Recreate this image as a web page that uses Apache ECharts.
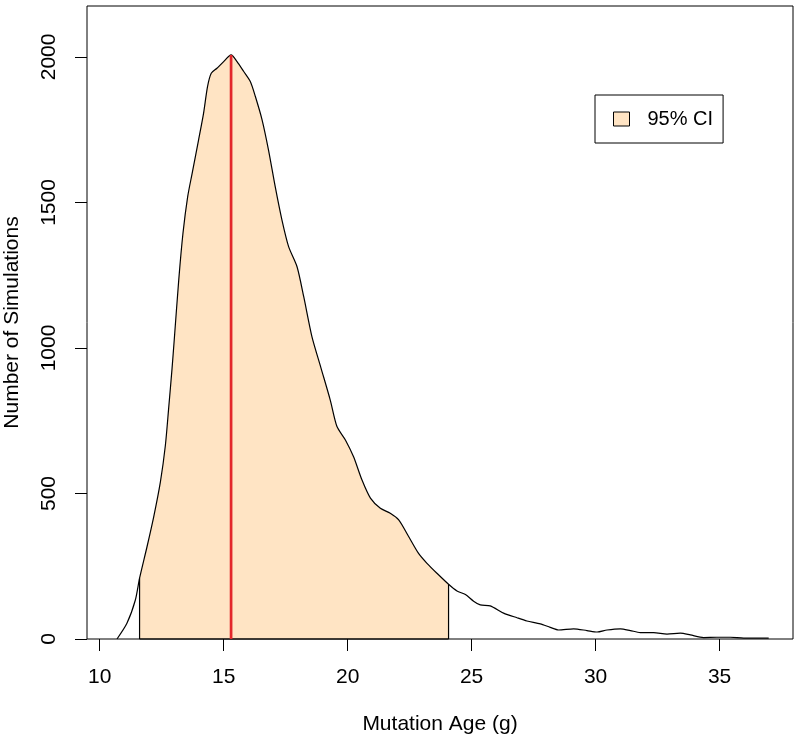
<!DOCTYPE html>
<html><head><meta charset="utf-8">
<script src="https://cdn.jsdelivr.net/npm/echarts@6/dist/echarts.min.js"></script>
<style>html,body{margin:0;padding:0;background:#fff}#c{width:800px;height:743px}</style>
</head><body><div id="c"></div>
<script>
// Density curve
const ageX = [10.70,11.10,11.44,11.61,11.91,12.18,12.45,12.65,12.78,12.92,13.01,13.19,13.36,13.55,13.73,13.99,14.19,14.35,14.50,14.73,15.00,15.30,15.54,15.81,16.08,16.28,16.55,16.81,17.08,17.35,17.62,17.96,18.23,18.56,18.93,19.30,19.57,19.91,20.24,20.58,20.92,21.32,21.72,22.06,22.46,22.86,23.20,23.60,24.07,24.41,24.75,25.08,25.35,25.75,26.29,26.83,27.23,27.77,28.17,28.51,29.11,29.65,30.06,30.46,31.00,31.40,31.80,32.34,32.88,33.42,33.82,34.35,34.89,35.43,35.97,36.51,36.98];
const simCount = [0,54,134,209,317,420,540,665,790,930,1030,1234,1394,1520,1600,1715,1806,1898,1944,1961,1984,2007,1984,1950,1915,1864,1784,1680,1554,1440,1348,1279,1176,1039,930,821,730,684,626,546,484,449,432,409,352,294,260,226,188,165,153,130,117,114,89,73,62,52,40,31,35,29,24,31,35,29,22,22,17,20,14,5,6,6,3,3,3];
const xTicks = [10,15,20,25,30,35];
const yTicks = [0,500,1000,1500,2000];
const ciLower = 11.61;
const ciLowerCount = 209;
const ciUpper = 24.07;
const ciUpperCount = 188;
const medianAge = 15.30;
const medianCount = 2007;
const ciName = '95% CI';

const curve = ageX.map((x, i) => [x, simCount[i]]);
const ciFill = curve.filter(p => p[0] >= ciLower && p[0] <= ciUpper);

const FONT = 'Liberation Sans, Arial, Helvetica, sans-serif';
const FS = 21;
const SM = 0.25;
const chart = echarts.init(document.getElementById('c'), null, {renderer: 'canvas'});
chart.setOption({
  animation: false,
  backgroundColor: '#fff',
  textStyle: {fontFamily: FONT},
  grid: {left: 87, right: 7, top: 6, bottom: 104, show: true, borderColor: '#000', borderWidth: 1, backgroundColor: 'transparent', containLabel: false, outerBoundsMode: 'none'},
  legend: {
    show: true,
    data: [{name: ciName, icon: 'rect', itemStyle: {color: '#FFE4C4', borderColor: '#000', borderWidth: 1}}],
    left: 595, top: 95,
    orient: 'vertical',
    itemWidth: 16, itemHeight: 14,
    padding: [14, 10, 14, 18],
    borderColor: '#000', borderWidth: 1,
    textStyle: {fontFamily: FONT, fontSize: 20, color: '#000', padding: [0, 0, 0, 13], lineHeight: 20},
    selectedMode: false
  },
  xAxis: {
    type: 'value', min: 9.49, max: 37.96,
    name: 'Mutation Age (g)', nameLocation: 'middle', nameGap: 75,
    nameTextStyle: {fontFamily: FONT, fontSize: FS, color: '#000'},
    axisLine: {show: false},
    splitLine: {show: false},
    axisTick: {show: true, inside: false, length: 12, lineStyle: {color: '#000', width: 1}, customValues: xTicks},
    axisLabel: {show: true, margin: 28, fontFamily: FONT, fontSize: FS, color: '#000', customValues: xTicks, formatter: v => String(v)}
  },
  yAxis: {
    type: 'value', min: 0, max: 2175,
    name: 'Number of Simulations', nameLocation: 'middle', nameRotate: 90, nameGap: 64,
    nameTextStyle: {fontFamily: FONT, fontSize: FS, color: '#000'},
    axisLine: {show: false},
    splitLine: {show: false},
    axisTick: {show: true, inside: false, length: 12, lineStyle: {color: '#000', width: 1}, customValues: yTicks},
    axisLabel: {show: true, rotate: 90, margin: 27, fontFamily: FONT, fontSize: FS, color: '#000', customValues: yTicks, formatter: v => String(v)}
  },
  series: [
    {
      name: ciName, type: 'line', data: ciFill, showSymbol: false, symbol: 'none',
      smooth: SM,
      lineStyle: {color: '#000', width: 0, opacity: 0}, areaStyle: {color: '#FFE4C4', opacity: 1, origin: 0},
      itemStyle: {color: '#FFE4C4', borderColor: '#000'}, z: 2, silent: true
    },
    {
      name: 'ciLeft', type: 'line', data: [[ciLower, 0], [ciLower, ciLowerCount]], symbol: 'none',
      lineStyle: {color: '#000', width: 1.2}, z: 3, silent: true
    },
    {
      name: 'ciRight', type: 'line', data: [[ciUpper, 0], [ciUpper, ciUpperCount]], symbol: 'none',
      lineStyle: {color: '#000', width: 1.2}, z: 3, silent: true
    },
    {
      name: 'ciBase', type: 'line', data: [[ciLower, 0], [ciUpper, 0]], symbol: 'none',
      lineStyle: {color: '#000', width: 1.5}, z: 3, silent: true
    },
    {
      name: 'density', type: 'line', data: curve, symbol: 'none', smooth: SM,
      lineStyle: {color: '#000', width: 1.2}, z: 4, silent: true
    },
    {
      name: 'median', type: 'line', data: [[medianAge, 0], [medianAge, medianCount]], symbol: 'none',
      lineStyle: {color: '#E3262B', width: 2.7}, z: 5, silent: true
    }
  ]
});
</script></body></html>
